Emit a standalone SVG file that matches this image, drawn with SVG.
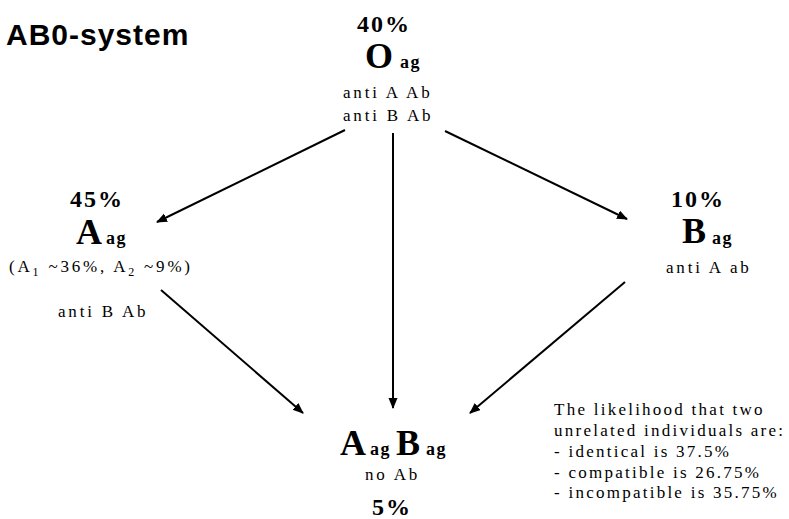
<svg xmlns="http://www.w3.org/2000/svg" width="789" height="519" viewBox="0 0 789 519">
<style>
.t{font-family:"Liberation Serif","Times New Roman",serif;fill:#000}
.pc{font-size:24px;font-weight:bold;letter-spacing:2px}
.big{font-size:36px;font-weight:bold}
.ag{font-size:18px;font-weight:bold;letter-spacing:1.5px}
.r{font-size:17px;letter-spacing:2.8px}
.n{font-size:17px;letter-spacing:2.25px}
.sub{font-size:12px}
.title{font-family:"Liberation Sans",Arial,sans-serif;font-size:30px;font-weight:bold;letter-spacing:1px;fill:#000}
.c line{stroke:#000;stroke-width:2}
</style>
<defs>
<marker id="ah" markerUnits="userSpaceOnUse" markerWidth="12" markerHeight="10" refX="10" refY="4.5" orient="auto">
<path d="M0,0 L11,4.5 L0,9 z" fill="#000"/>
</marker>
</defs>
<rect width="789" height="519" fill="#fff"/>
<text class="title" x="6" y="45">AB0-system</text>
<g class="c">
<line x1="345" y1="130" x2="157" y2="222" marker-end="url(#ah)"/>
<line x1="393" y1="133" x2="393" y2="408" marker-end="url(#ah)"/>
<line x1="445" y1="131" x2="627" y2="219" marker-end="url(#ah)"/>
<line x1="161" y1="290" x2="303" y2="413" marker-end="url(#ah)"/>
<line x1="625" y1="282" x2="470" y2="413" marker-end="url(#ah)"/>
</g>
<g id="nodeO" class="t">
<text class="pc" x="357" y="32">40%</text>
<text class="big" x="365" y="68">O</text>
<text class="ag" x="400" y="68">ag</text>
<text class="r" x="343" y="98">anti A Ab</text>
<text class="r" x="343" y="121">anti B Ab</text>
</g>
<g id="nodeA" class="t">
<text class="pc" x="70" y="207">45%</text>
<text class="big" x="76" y="244">A</text>
<text class="ag" x="106" y="244">ag</text>
<text class="r" x="9" y="272">(A<tspan class="sub" dy="4">1</tspan><tspan dy="-4"> ~36%, A</tspan><tspan class="sub" dy="4">2</tspan><tspan dy="-4"> ~9%)</tspan></text>
<text class="r" x="58" y="317">anti B Ab</text>
</g>
<g id="nodeB" class="t">
<text class="pc" x="671" y="207">10%</text>
<text class="big" x="682" y="243">B</text>
<text class="ag" x="712" y="244">ag</text>
<text class="r" x="666" y="273">anti A ab</text>
</g>
<g id="nodeAB" class="t">
<text class="big" x="340" y="455">A</text>
<text class="ag" x="370" y="455">ag</text>
<text class="big" x="396" y="455">B</text>
<text class="ag" x="426" y="455">ag</text>
<text class="r" x="365" y="480">no Ab</text>
<text class="pc" x="372" y="515">5%</text>
</g>
<g id="note" class="t">
<text class="n" x="554" y="415">The likelihood that two</text>
<text class="n" x="554" y="436">unrelated individuals are:</text>
<text class="n" x="554" y="457">- identical is 37.5%</text>
<text class="n" x="554" y="478">- compatible is 26.75%</text>
<text class="n" x="554" y="498">- incompatible is 35.75%</text>
</g>
</svg>
